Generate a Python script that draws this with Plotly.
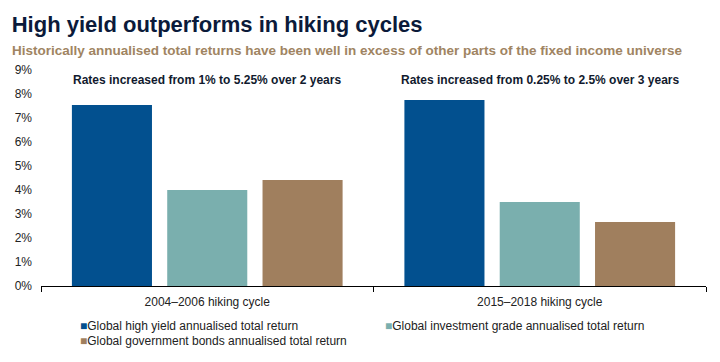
import plotly.graph_objects as go

categories = ["2004–2006 hiking cycle", "2015–2018 hiking cycle"]
series_names = [
    "Global high yield annualised total return",
    "Global investment grade annualised total return",
    "Global government bonds annualised total return",
]
high_yield = [7.54, 7.75]
investment_grade = [4.0, 3.5]
government = [4.42, 2.67]
notes = [
    "Rates increased from 1% to 5.25% over 2 years",
    "Rates increased from 0.25% to 2.5% over 3 years",
]
y_ticks = [0, 1, 2, 3, 4, 5, 6, 7, 8, 9]

colors = ["#02508F", "#7AAFAE", "#A07F5E"]
FONT = "Liberation Sans, Arial, sans-serif"

fig = go.Figure()
for name, vals, col in zip(series_names, [high_yield, investment_grade, government], colors):
    fig.add_trace(go.Bar(x=categories, y=vals, name=name, showlegend=False,
                         marker=dict(color=col, line=dict(width=0))))

for cat, note in zip(categories, notes):
    fig.add_annotation(x=cat, y=8.58, xref="x", yref="y", text="<b>" + note + "</b>",
                       showarrow=False, font=dict(family=FONT, size=12, color="#111a2e"))

# custom legend (two columns, like the reference)
legend_pos = [(0.0556, -0.185), (0.514, -0.185), (0.0556, -0.255)]
for name, col, (lx, ly) in zip(series_names, colors, legend_pos):
    fig.add_annotation(xref="paper", yref="paper", x=lx, y=ly, xanchor="left", yanchor="middle",
                       text=f'<span style="color:{col};font-size:12px">■</span>{name}',
                       showarrow=False, font=dict(family=FONT, size=12, color="#222222"))

fig.update_layout(
    width=720, height=362,
    margin=dict(l=41, r=14, t=70, b=76),
    paper_bgcolor="white", plot_bgcolor="white",
    barmode="group", bargap=0.14, bargroupgap=0.16,
    font=dict(family=FONT, size=12, color="#222222"),
    title=dict(
        text="<b>High yield outperforms in hiking cycles</b>",
        x=0.0163, xanchor="left", y=0.934, yanchor="middle",
        font=dict(family=FONT, size=22, color="#0b1a3a"),
    ),
    showlegend=False,
)
fig.add_annotation(xref="paper", yref="paper", x=-0.0466, y=1.09, xanchor="left", yanchor="middle",
                   text="<b>Historically annualised total returns have been well in excess of other parts of the fixed income universe</b>",
                   showarrow=False, font=dict(family=FONT, size=13.5, color="#A08462"))

fig.update_yaxes(range=[0, 9], tickvals=y_ticks, ticktext=[f"{v}%" for v in y_ticks],
                 showgrid=False, zeroline=False, showline=False, ticks="",
                 tickfont=dict(family=FONT, size=12, color="#222222"), ticklabelstandoff=8)
fig.update_xaxes(showline=True, linecolor="#000000", linewidth=1, ticks="outside",
                 tickson="boundaries", ticklen=5, tickcolor="#000000", showgrid=False,
                 tickfont=dict(family=FONT, size=12, color="#222222"), ticklabelstandoff=5)

fig.write_html("out.html", config={"displayModeBar": False},
               post_script="document.body.style.margin='0';")
